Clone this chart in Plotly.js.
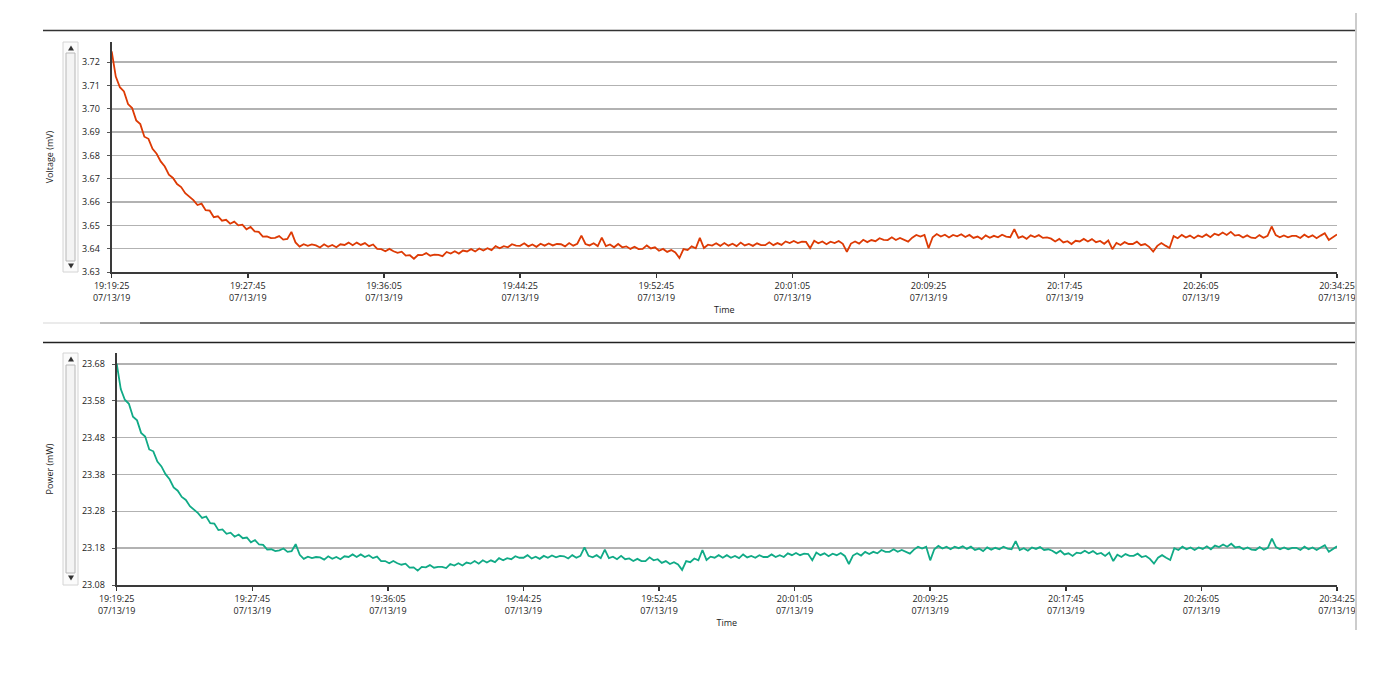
<!DOCTYPE html>
<html>
<head>
<meta charset="utf-8">
<script src="https://cdn.plot.ly/plotly-3.0.1.min.js"></script>
<style>
html,body{margin:0;padding:0;background:#ffffff;}
#chart{width:1400px;height:700px;}
</style>
</head>
<body>
<div id="chart"></div>
<script>
// ---- data (one sample every 15 s from 19:19:25) ----
const startClock = '19:19:25';
const dateText = '07/13/19';
const sampleStepSec = 15;

const voltage = [
3.7246,3.7138,3.7092,3.7074,3.7020,3.7003,3.6950,3.6934,3.6880,3.6871,
3.6828,3.6807,3.6774,3.6752,3.6717,3.6703,3.6677,3.6664,3.6638,3.6624,
3.6608,3.6587,3.6593,3.6565,3.6563,3.6535,3.6539,3.6520,3.6524,3.6507,
3.6516,3.6500,3.6503,3.6483,3.6493,3.6474,3.6472,3.6452,3.6453,3.6445,
3.6446,3.6454,3.6439,3.6442,3.6472,3.6427,3.6409,3.6419,3.6412,3.6418,
3.6414,3.6405,3.6419,3.6408,3.6416,3.6406,3.6419,3.6416,3.6426,3.6415,
3.6426,3.6416,3.6424,3.6411,3.6418,3.6399,3.6398,3.6389,3.6399,3.6389,
3.6382,3.6387,3.6370,3.6372,3.6357,3.6373,3.6372,3.6381,3.6370,3.6374,
3.6373,3.6368,3.6386,3.6379,3.6389,3.6379,3.6392,3.6388,3.6398,3.6388,
3.6401,3.6392,3.6402,3.6394,3.6411,3.6402,3.6411,3.6406,3.6419,3.6413,
3.6412,3.6423,3.6410,3.6418,3.6408,3.6421,3.6413,3.6422,3.6414,3.6420,
3.6419,3.6410,3.6424,3.6413,3.6421,3.6456,3.6420,3.6414,3.6423,3.6411,
3.6447,3.6411,3.6418,3.6406,3.6420,3.6406,3.6410,3.6399,3.6408,3.6398,
3.6399,3.6414,3.6401,3.6406,3.6391,3.6399,3.6386,3.6394,3.6384,3.6360,
3.6398,3.6394,3.6410,3.6402,3.6446,3.6403,3.6417,3.6413,3.6423,3.6412,
3.6424,3.6413,3.6421,3.6411,3.6426,3.6414,3.6420,3.6412,3.6423,3.6415,
3.6415,3.6427,3.6415,3.6424,3.6416,3.6431,3.6424,3.6433,3.6424,3.6430,
3.6429,3.6402,3.6434,3.6423,3.6431,3.6419,3.6430,3.6424,3.6433,3.6421,
3.6386,3.6422,3.6431,3.6422,3.6438,3.6428,3.6437,3.6432,3.6445,3.6438,
3.6437,3.6449,3.6437,3.6446,3.6437,3.6430,3.6447,3.6459,3.6452,3.6459,
3.6402,3.6449,3.6463,3.6452,3.6460,3.6448,3.6459,3.6453,3.6462,3.6450,
3.6459,3.6446,3.6452,3.6441,3.6457,3.6447,3.6455,3.6449,3.6460,3.6452,
3.6449,3.6484,3.6446,3.6453,3.6442,3.6457,3.6450,3.6458,3.6446,3.6448,
3.6443,3.6431,3.6442,3.6427,3.6432,3.6420,3.6434,3.6431,3.6442,3.6431,
3.6441,3.6428,3.6433,3.6421,3.6435,3.6398,3.6425,3.6416,3.6428,3.6420,
3.6420,3.6430,3.6415,3.6420,3.6408,3.6388,3.6412,3.6424,3.6413,3.6403,
3.6454,3.6445,3.6459,3.6448,3.6456,3.6445,3.6456,3.6450,3.6461,3.6449,
3.6464,3.6458,3.6469,3.6459,3.6472,3.6456,3.6459,3.6448,3.6457,3.6447,
3.6445,3.6458,3.6447,3.6455,3.6495,3.6458,3.6449,3.6457,3.6449,3.6455,
3.6455,3.6446,3.6460,3.6449,3.6457,3.6445,3.6456,3.6466,3.6437,3.6450,3.6461
];

const power = [
23.681,23.612,23.583,23.572,23.537,23.527,23.493,23.483,23.448,23.443,
23.415,23.402,23.381,23.367,23.345,23.336,23.319,23.311,23.294,23.285,
23.275,23.262,23.266,23.248,23.247,23.229,23.231,23.219,23.222,23.211,
23.217,23.207,23.209,23.196,23.202,23.190,23.189,23.176,23.177,23.172,
23.174,23.179,23.170,23.172,23.191,23.162,23.151,23.157,23.153,23.156,
23.155,23.149,23.158,23.151,23.156,23.150,23.158,23.156,23.163,23.156,
23.163,23.156,23.161,23.153,23.157,23.145,23.145,23.139,23.145,23.139,
23.135,23.138,23.127,23.128,23.119,23.129,23.128,23.134,23.127,23.129,
23.129,23.126,23.137,23.133,23.139,23.133,23.141,23.138,23.145,23.138,
23.147,23.141,23.147,23.142,23.153,23.147,23.153,23.150,23.158,23.154,
23.154,23.161,23.152,23.157,23.151,23.159,23.154,23.160,23.155,23.159,
23.158,23.152,23.161,23.154,23.159,23.182,23.159,23.155,23.161,23.153,
23.176,23.153,23.157,23.150,23.159,23.150,23.152,23.145,23.151,23.145,
23.145,23.155,23.147,23.150,23.140,23.145,23.137,23.142,23.136,23.121,
23.145,23.142,23.152,23.147,23.175,23.148,23.157,23.154,23.161,23.154,
23.161,23.154,23.159,23.153,23.163,23.155,23.159,23.154,23.161,23.156,
23.156,23.163,23.156,23.161,23.156,23.166,23.161,23.167,23.161,23.165,
23.164,23.147,23.168,23.161,23.166,23.158,23.165,23.161,23.167,23.159,
23.137,23.160,23.166,23.160,23.170,23.164,23.170,23.166,23.175,23.170,
23.170,23.177,23.170,23.175,23.170,23.165,23.176,23.184,23.179,23.184,
23.147,23.177,23.186,23.179,23.184,23.177,23.184,23.180,23.185,23.178,
23.184,23.175,23.179,23.172,23.182,23.176,23.181,23.177,23.184,23.179,
23.177,23.199,23.175,23.180,23.173,23.182,23.178,23.183,23.175,23.177,
23.173,23.166,23.173,23.163,23.166,23.159,23.168,23.166,23.173,23.166,
23.172,23.164,23.167,23.159,23.168,23.145,23.162,23.156,23.164,23.159,
23.159,23.165,23.156,23.159,23.151,23.138,23.154,23.161,23.154,23.148,
23.180,23.175,23.184,23.177,23.182,23.175,23.182,23.178,23.185,23.177,
23.187,23.183,23.190,23.184,23.192,23.182,23.184,23.177,23.182,23.176,
23.175,23.183,23.176,23.181,23.206,23.183,23.177,23.182,23.177,23.181,
23.181,23.175,23.184,23.177,23.182,23.175,23.182,23.188,23.170,23.178,23.185
];

const tickClocks = ['19:19:25','19:27:45','19:36:05','19:44:25','19:52:45','20:01:05','20:09:25','20:17:45','20:26:05','20:34:25'];
const voltageTicks = [3.63,3.64,3.65,3.66,3.67,3.68,3.69,3.70,3.71,3.72];
const powerTicks = [23.08,23.18,23.28,23.38,23.48,23.58,23.68];

// ---- helpers ----
const W = 1400, H = 700;
const px = x => x / W;
const py = y => 1 - y / H;
const pad = n => String(n).padStart(2, '0');
function toSec(c){ const p = c.split(':').map(Number); return p[0]*3600 + p[1]*60 + p[2]; }
function stamp(sec){ return '2019-07-13 ' + pad(Math.floor(sec/3600)) + ':' + pad(Math.floor(sec%3600/60)) + ':' + pad(sec%60); }

const t0 = toSec(startClock);
const times = voltage.map((_, i) => stamp(t0 + i * sampleStepSec));
const tickVals = tickClocks.map(c => '2019-07-13 ' + c);
const tickText = tickClocks.map(c => c + '<br>' + dateText);

const FONT = 'Open Sans, Noto Sans, sans-serif';
const tickFont = {family: FONT, size: 9, color: '#1c1c1c'};

function xAxis(domain, anchor){
  return {
    type: 'date', domain: domain, anchor: anchor,
    range: [tickVals[0], tickVals[tickVals.length-1]],
    tickmode: 'array', tickvals: tickVals, ticktext: tickText,
    ticks: 'outside', ticklen: 4, tickwidth: 1.5, tickcolor: '#333',
    showline: true, linecolor: '#3a3a3a', linewidth: 2,
    showgrid: false, zeroline: false, automargin: false,
    tickfont: tickFont,
    title: {text: 'Time', font: {family: FONT, size: 9, color: '#1c1c1c'}, standoff: 4}
  };
}
function yAxis(domain, anchor, range, ticks, title){
  return {
    domain: domain, anchor: anchor, range: range,
    tickmode: 'array', tickvals: ticks, tickformat: '.2f',
    ticks: 'outside', ticklen: 3, tickwidth: 1, tickcolor: '#555',
    ticklabelstandoff: 5,
    showline: true, linecolor: '#3a3a3a', linewidth: 2,
    showgrid: true, gridcolor: '#b2b2b2', gridwidth: 1.6,
    zeroline: false, automargin: false,
    tickfont: tickFont,
    title: {text: title, font: {family: FONT, size: 9, color: '#1c1c1c'}, standoff: 27}
  };
}

const traces = [
  {x: times, y: voltage, type: 'scatter', mode: 'lines', name: 'Voltage (mV)',
   line: {color: '#dd3a04', width: 1.8}, xaxis: 'x', yaxis: 'y', hoverinfo: 'x+y'},
  {x: times, y: power, type: 'scatter', mode: 'lines', name: 'Power (mW)',
   line: {color: '#10aa86', width: 1.8}, xaxis: 'x2', yaxis: 'y2', hoverinfo: 'x+y'}
];

function hline(y, x0, x1, color, width){
  return {type: 'line', xref: 'paper', yref: 'paper', x0: px(x0), x1: px(x1), y0: py(y), y1: py(y),
          line: {color: color, width: width}, layer: 'below'};
}
function rect(x0, y0, x1, y1, line, fill){
  return {type: 'rect', xref: 'paper', yref: 'paper', x0: px(x0), x1: px(x1), y0: py(y1), y1: py(y0),
          line: {color: line, width: 1}, fillcolor: fill, layer: 'below'};
}
function tri(cx, cy, up){
  const d = up ? 2.5 : -2.5;
  const path = 'M ' + px(cx-3) + ',' + py(cy+d) + ' L ' + px(cx+3) + ',' + py(cy+d) + ' L ' + px(cx) + ',' + py(cy-d) + ' Z';
  return {type: 'path', xref: 'paper', yref: 'paper', path: path, fillcolor: '#333', line: {width: 0}};
}

const shapes = [
  hline(30.5, 43, 1355, '#333', 1.5),
  hline(323, 43, 100, '#e4e4e4', 1.5),
  hline(323, 100, 140, '#aaaaaa', 1.5),
  hline(323, 140, 1355, '#444', 1.5),
  hline(342.5, 43, 1355, '#222', 1.5),
  {type: 'line', xref: 'paper', yref: 'paper', x0: px(1356), x1: px(1356), y0: py(13), y1: py(630),
   line: {color: '#cccccc', width: 2}},
  // scrollbar decorations (top)
  rect(63, 42, 78, 272, '#d4d4d4', '#fbfbfb'),
  rect(66, 53, 75, 261, '#b8b8b8', '#f4f4f4'),
  tri(71, 48, true), tri(71, 266, false),
  // scrollbar decorations (bottom)
  rect(63, 353, 78, 585, '#d4d4d4', '#fbfbfb'),
  rect(66, 365, 75, 573, '#b8b8b8', '#f4f4f4'),
  tri(71, 359, true), tri(71, 578, false)
];

const layout = {
  width: W, height: H,
  margin: {l: 0, r: 0, t: 0, b: 0, pad: 0},
  paper_bgcolor: '#ffffff', plot_bgcolor: 'rgba(0,0,0,0)',
  showlegend: false,
  font: {family: FONT, size: 9, color: '#1c1c1c'},
  xaxis: xAxis([px(111.7), px(1337)], 'y'),
  yaxis: yAxis([py(272), py(42)], 'x', [3.63, 3.7286], voltageTicks, 'Voltage (mV)'),
  xaxis2: xAxis([px(116.7), px(1337)], 'y2'),
  yaxis2: yAxis([py(585), py(353)], 'x2', [23.08, 23.7099], powerTicks, 'Power (mW)'),
  shapes: shapes
};

Plotly.newPlot('chart', traces, layout, {displayModeBar: false, staticPlot: true});
</script>
</body>
</html>
